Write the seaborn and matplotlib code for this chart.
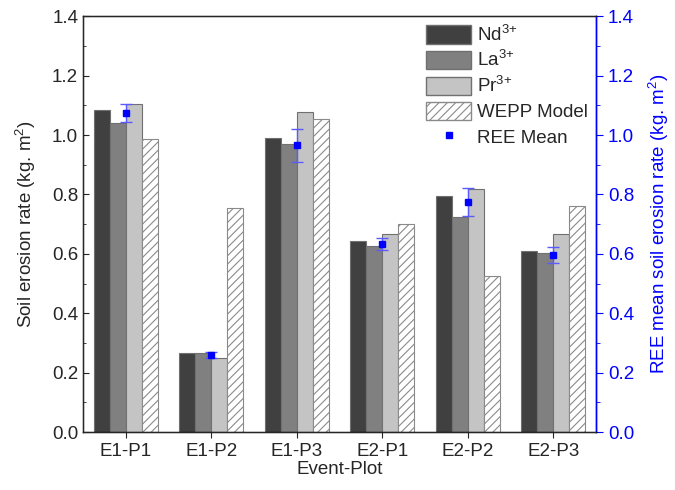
import numpy as np
import pandas as pd
import matplotlib
matplotlib.use("Agg")
import matplotlib.pyplot as plt
import seaborn as sns
from matplotlib.ticker import MultipleLocator, FormatStrFormatter
from matplotlib.patches import Patch
from matplotlib.lines import Line2D

# Data
plots = ["E1-P1", "E1-P2", "E1-P3", "E2-P1", "E2-P2", "E2-P3"]
nd = [1.085, 0.265, 0.99, 0.643, 0.795, 0.61]
la = [1.04, 0.265, 0.97, 0.628, 0.725, 0.603]
pr = [1.105, 0.25, 1.078, 0.668, 0.82, 0.667]
wepp = [0.985, 0.755, 1.055, 0.70, 0.525, 0.76]
ree_mean = [1.075, 0.26, 0.965, 0.633, 0.775, 0.597]
ree_err = [0.03, 0.01, 0.055, 0.02, 0.048, 0.027]

series = [r"Nd$^{3{+}}$", r"La$^{3{+}}$", r"Pr$^{3{+}}$", "WEPP Model"]
colors = ["#404040", "#808080", "#c4c4c4", "#ffffff"]

df = pd.DataFrame({"Event-Plot": plots, series[0]: nd, series[1]: la,
                   series[2]: pr, series[3]: wepp})
long = df.melt(id_vars="Event-Plot", var_name="series", value_name="rate")

sns.set_style("ticks")
plt.rcParams["font.family"] = ["Liberation Sans", "DejaVu Sans"]
plt.rcParams["mathtext.fontset"] = "custom"
plt.rcParams["mathtext.rm"] = "Liberation Sans"
plt.rcParams["mathtext.it"] = "Liberation Sans"
plt.rcParams["mathtext.bf"] = "Liberation Sans:bold"
plt.rcParams["hatch.color"] = "#999999"
plt.rcParams["hatch.linewidth"] = 0.8
fs = 13.5

fig = plt.figure(figsize=(6.75, 4.9), dpi=100)
ax = fig.add_axes([0.123, 0.118, 0.76, 0.849])

sns.barplot(data=long, x="Event-Plot", y="rate", hue="series", hue_order=series,
            palette=colors, width=0.75, edgecolor="#707070", linewidth=0.8,
            ax=ax, legend=False)

# hatch the WEPP bars
for bar in ax.containers[3]:
    bar.set_hatch("////")
    bar.set_edgecolor("#8a8a8a")

ax.set_xlim(-0.5, 5.5)
ax.set_ylim(0, 1.4)
ax.yaxis.set_major_locator(MultipleLocator(0.2))
ax.yaxis.set_minor_locator(MultipleLocator(0.1))
ax.yaxis.set_major_formatter(FormatStrFormatter("%.1f"))
ax.set_xlabel("Event-Plot", fontsize=fs, labelpad=1)
ax.set_ylabel("Soil erosion rate (kg. m$^2$)", fontsize=fs, labelpad=10)
ax.tick_params(axis="y", which="both", direction="in", labelsize=fs)
ax.tick_params(axis="y", which="major", length=4)
ax.tick_params(axis="y", which="minor", length=2)
ax.tick_params(axis="x", direction="out", length=4, labelsize=fs)
for s in ax.spines.values():
    s.set_color("black")
    s.set_linewidth(1.0)

# right axis with REE mean
ax2 = ax.twinx()
ax2.set_ylim(0, 1.4)
ax2.errorbar(np.arange(len(plots)), ree_mean, yerr=ree_err, fmt="s", color="#0000ff",
             markersize=4.5, ecolor="#5a5aff", elinewidth=1, capsize=4, capthick=1)
ax2.yaxis.set_major_locator(MultipleLocator(0.2))
ax2.yaxis.set_minor_locator(MultipleLocator(0.1))
ax2.yaxis.set_major_formatter(FormatStrFormatter("%.1f"))
ax2.tick_params(axis="y", which="both", direction="out", colors="#0000ff", labelsize=fs)
ax2.tick_params(axis="y", which="major", length=5)
ax2.tick_params(axis="y", which="minor", length=3)
ax2.spines["right"].set_color("#0000ff")
ax2.spines["right"].set_linewidth(1.0)
ax2.set_ylabel("REE mean soil erosion rate (kg. m$^2$)", color="#0000ff", fontsize=fs,
               labelpad=9)

handles = [Patch(facecolor=c, edgecolor="#707070", label=s) for c, s in zip(colors[:3], series[:3])]
handles.append(Patch(facecolor="white", edgecolor="#8a8a8a", hatch="////", label=series[3]))
handles.append(Line2D([], [], marker="s", color="#0000ff", linestyle="none",
                      markersize=4.5, label="REE Mean"))
ax2.legend(handles=handles, loc="upper right", frameon=False, fontsize=fs,
           handlelength=2.4, handleheight=1.15, labelspacing=0.3,
           borderaxespad=0.15, handletextpad=0.3, borderpad=0.3)

fig.savefig("out.png", dpi=100)
